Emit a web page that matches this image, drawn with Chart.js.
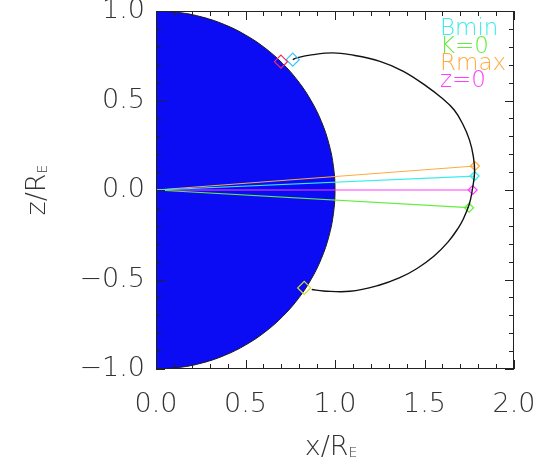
<!DOCTYPE html>
<html>
<head>
<meta charset="utf-8">
<script src="https://cdn.jsdelivr.net/npm/chart.js@4"></script>
<style>
  html, body { margin: 0; padding: 0; background: #fff; }
</style>
</head>
<body>
<canvas id="chart" width="545" height="458"></canvas>
<script>
// Earth outline (radius 1, dayside half), listed point by point
const earthX = [0, 0.1305, 0.2588, 0.3827, 0.5, 0.6088, 0.7071, 0.7934, 0.866, 0.9239, 0.9659, 0.9914, 1,
                0.9914, 0.9659, 0.9239, 0.866, 0.7934, 0.7071, 0.6088, 0.5, 0.3827, 0.2588, 0.1305, 0]
const earthZ = [1, 0.9914, 0.9659, 0.9239, 0.866, 0.7934, 0.7071, 0.6088, 0.5, 0.3827, 0.2588, 0.1305, 0,
                -0.1305, -0.2588, -0.3827, -0.5, -0.6088, -0.7071, -0.7934, -0.866, -0.9239, -0.9659, -0.9914, -1]

// traced field line
const fieldX = [0.764, 0.786, 0.877, 0.989, 1.084, 1.251, 1.382, 1.512, 1.595, 1.665, 1.713, 1.751, 1.773, 1.78, 1.767,
                1.75, 1.714, 1.69, 1.632, 1.552, 1.456, 1.362, 1.246, 1.084, 0.935, 0.87]
const fieldZ = [0.728, 0.738, 0.756, 0.766, 0.756, 0.719, 0.663, 0.579, 0.515, 0.448, 0.37, 0.28, 0.187, 0.1, 0,
                -0.08, -0.168, -0.21, -0.29, -0.37, -0.44, -0.49, -0.532, -0.566, -0.564, -0.556]

// equator definitions: where each one puts the crossing point
const seriesNames = ['Bmin', 'K=0', 'Rmax', 'z=0']
const seriesColors = ['#38ecec', '#62ee3a', '#ffaa40', '#ff3cff']
const eqX = [1.780, 1.749, 1.782, 1.769]
const eqZ = [0.078, -0.099, 0.134, 0.0]

// footpoint markers on the surface
const footX = [0.698, 0.764, 0.828]
const footZ = [0.717, 0.728, -0.547]
const footColors = ['#ee2a66', '#36c4f6', '#d8e034']

const xTicks = [0, 0.5, 1, 1.5, 2]
const yTicks = [-1, -0.5, 0, 0.5, 1]

const tickFont = { family: 'DejaVu Sans', size: 27, weight: '200' }

const pts = (xs, ys) => xs.map((x, i) => ({ x: x, y: ys[i] }))

const datasets = []

datasets.push({
  label: 'Earth',
  data: pts(earthX, earthZ),
  showLine: true,
  fill: 'shape',
  backgroundColor: '#0c0cf4',
  borderColor: '#1a1a1a',
  borderWidth: 1,
  tension: 0.4,
  pointRadius: 0,
  order: 10
})

seriesNames.forEach((name, i) => {
  datasets.push({
    label: name + ' line',
    data: [{ x: 0, y: 0 }, { x: eqX[i], y: eqZ[i] }],
    showLine: true,
    borderColor: seriesColors[i],
    borderWidth: 1.2,
    pointRadius: [0, 4.5],
    pointStyle: 'rectRot',
    pointBorderColor: seriesColors[i],
    pointBackgroundColor: 'rgba(0,0,0,0)',
    pointBorderWidth: 1.2,
    order: 3
  })
})

datasets.push({
  label: 'field line',
  data: pts(fieldX, fieldZ),
  showLine: true,
  borderColor: '#111',
  borderWidth: 1.4,
  tension: 0.4,
  pointRadius: 0,
  order: 2
})

footX.forEach((x, i) => {
  datasets.push({
    label: 'foot ' + i,
    data: [{ x: x, y: footZ[i] }],
    showLine: false,
    pointStyle: 'rectRot',
    pointRadius: 6.5,
    pointBorderColor: footColors[i],
    pointBackgroundColor: 'rgba(0,0,0,0)',
    pointBorderWidth: 1.2,
    order: 1
  })
})

const frameTicks = {
  id: 'frameTicks',
  afterDatasetsDraw(chart) {
    const { ctx, chartArea: a, scales } = chart
    ctx.save()
    ctx.strokeStyle = '#222'
    ctx.lineWidth = 1
    ctx.strokeRect(a.left + 0.5, a.top + 0.5, a.right - a.left - 1, a.bottom - a.top - 1)
    ctx.beginPath()
    for (let k = 0; k <= 20; k++) {
      const v = k / 10
      const len = k % 5 === 0 ? 9 : 5
      const px = Math.round(scales.x.getPixelForValue(v)) + 0.5
      ctx.moveTo(px, a.bottom); ctx.lineTo(px, a.bottom - len)
      ctx.moveTo(px, a.top); ctx.lineTo(px, a.top + len)
    }
    for (let k = -10; k <= 10; k++) {
      const v = k / 10
      const len = k % 5 === 0 ? 9 : 5
      const py = Math.round(scales.y.getPixelForValue(v)) + 0.5
      ctx.moveTo(a.left, py); ctx.lineTo(a.left + len, py)
      ctx.moveTo(a.right, py); ctx.lineTo(a.right - len, py)
    }
    ctx.stroke()
    ctx.restore()
  },
  afterDraw(chart) {
    const { ctx, chartArea: a } = chart
    ctx.save()
    // legend as plain coloured words
    ctx.font = '200 23px "DejaVu Sans"'
    ctx.textBaseline = 'alphabetic'
    const base = [35, 53, 70, 87]
    seriesNames.forEach((name, i) => {
      ctx.fillStyle = seriesColors[i]
      ctx.fillText(name, 440, base[i])
    })
    // axis titles with subscript E
    ctx.fillStyle = '#333'
    const drawTitle = (main, sub, cx, baseline) => {
      ctx.font = '200 27px "DejaVu Sans"'
      const w1 = ctx.measureText(main).width
      ctx.font = '200 14px "DejaVu Sans"'
      const w2 = ctx.measureText(sub).width
      const x0 = cx - (w1 + w2) / 2
      ctx.font = '200 27px "DejaVu Sans"'
      ctx.fillText(main, x0, baseline)
      ctx.font = '200 14px "DejaVu Sans"'
      ctx.fillText(sub, x0 + w1, baseline + 2)
    }
    drawTitle('x/R', 'E', (a.left + a.right) / 2 - 4, 455)
    ctx.translate(45, 190)
    ctx.rotate(-Math.PI / 2)
    drawTitle('z/R', 'E', 0, 0)
    ctx.restore()
  }
}

const noOverflow = s => { s.paddingTop = 0; s.paddingBottom = 0; s.paddingLeft = 0; s.paddingRight = 0 }

new Chart(document.getElementById('chart'), {
  type: 'scatter',
  data: { datasets: datasets },
  options: {
    responsive: false,
    animation: false,
    layout: { padding: { left: 0, top: 11, right: 31, bottom: 0 } },
    plugins: { legend: { display: false }, tooltip: { enabled: false } },
    scales: {
      x: {
        type: 'linear',
        min: 0, max: 2,
        afterBuildTicks: s => { s.ticks = xTicks.map(v => ({ value: v })) },
        afterFit: s => { s.height = 89; noOverflow(s) },
        grid: { display: false, drawTicks: false },
        border: { display: false },
        ticks: {
          padding: 20,
          color: '#333',
          font: tickFont,
          maxRotation: 0,
          callback: v => v.toFixed(1)
        }
      },
      y: {
        type: 'linear',
        min: -1, max: 1,
        afterBuildTicks: s => { s.ticks = yTicks.map(v => ({ value: v })) },
        afterFit: s => { s.width = 156; noOverflow(s) },
        grid: { display: false, drawTicks: false },
        border: { display: false },
        ticks: {
          padding: 11,
          color: '#333',
          font: tickFont,
          callback: v => (v < 0 ? '\u2212' : '') + Math.abs(v).toFixed(1)
        }
      }
    }
  },
  plugins: [frameTicks]
})
</script>
</body>
</html>
